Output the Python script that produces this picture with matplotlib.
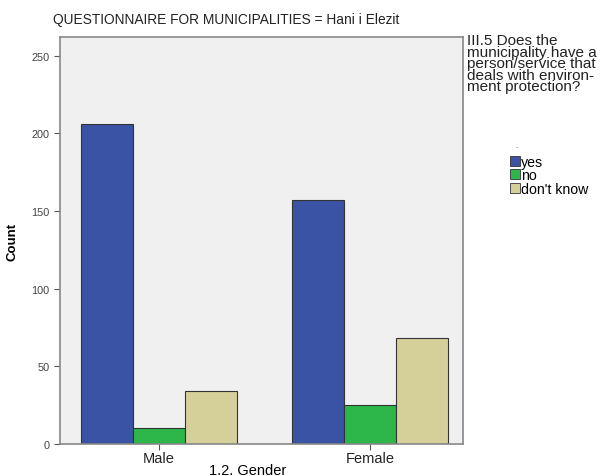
import matplotlib.pyplot as plt
import numpy as np
from matplotlib.patches import Patch

plt.rcParams['font.family'] = ['Liberation Sans', 'DejaVu Sans']

genders = ['Male', 'Female']
answers = ['yes', 'no', "don't know"]
counts_yes = [206, 157]
counts_no = [10, 25]
counts_dk = [34, 68]
colors = ['#3a53a4', '#2db74a', '#d5d09a']

fig = plt.figure(figsize=(6.07, 4.77), dpi=100)
ax = fig.add_axes([60/607, 1-445/477, 403/607, 407/477])
ax.set_facecolor('#f0f0f0')

x = np.arange(len(genders))
w = 0.246
for i, (vals, c) in enumerate(zip([counts_yes, counts_no, counts_dk], colors)):
    ax.bar(x + (i-1)*w, vals, w, color=c, edgecolor='#333333', linewidth=0.8)

ax.set_xlim(-0.469, 1.441)
ax.set_ylim(0, 262)
ax.set_yticks([0, 50, 100, 150, 200, 250])
ax.set_xticks(x)
ax.set_xticklabels(genders, fontsize=10.5)
ax.tick_params(axis='y', labelsize=7.8, colors='#555555', length=4, labelcolor='#444444')
ax.tick_params(axis='x', length=4, pad=1, colors='#555555', labelcolor='#222222')
for s in ax.spines.values():
    s.set_color('#888888')
    s.set_linewidth(1.2)

ax.set_xlabel('1.2. Gender', fontsize=10.5)
ax.xaxis.set_label_coords((248-60)/403, -0.046)
ax.set_ylabel('Count', fontsize=9.5, fontweight='bold')
ax.yaxis.set_label_coords(-(60-18)/403, 0.5)

fig.text(53/607, 1-20/477, 'QUESTIONNAIRE FOR MUNICIPALITIES = Hani i Elezit',
         fontsize=9.9, va='center', ha='left', color='#222222')

fig.text(467/607, 1-34/477, 'III.5 Does the\nmunicipality have a\nperson/service that\ndeals with environ-\nment protection?',
         fontsize=11, va='top', ha='left', linespacing=0.78, color='#222222')

handles = [Patch(facecolor=c, edgecolor='#333333', linewidth=0.6) for c in colors]
fig.legend(handles, answers, loc='upper left', bbox_to_anchor=(510/607, 1-156/477),
           frameon=False, fontsize=10.2, handlelength=0.7, handleheight=0.7,
           handletextpad=0.1, labelspacing=-0.05, borderpad=0, borderaxespad=0)
fig.text(515/607, 1-148/477, '.', fontsize=6, color='#444444')

fig.savefig('out.png', dpi=100)
